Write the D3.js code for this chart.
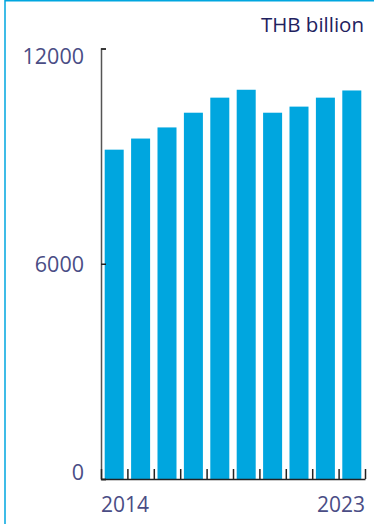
<!DOCTYPE html>
<html>
<head>
<meta charset="utf-8">
<script src="https://cdn.jsdelivr.net/npm/d3@7"></script>
<style>
html,body{margin:0;padding:0;background:#fff;}
svg{display:block;}
text{font-family:"Open Sans",sans-serif;}
</style>
</head>
<body>
<svg id="c" width="374" height="524"></svg>
<script>
const years = [2014,2015,2016,2017,2018,2019,2020,2021,2022,2023];
const values = [9180,9490,9800,10210,10630,10850,10210,10380,10630,10830];
const yTicks = [0,6000,12000];
const xLabels = ["2014","2023"];
const unitLabel = "THB billion";

const svg = d3.select("#c");
const W = 374, H = 524;
const blue = "#00a6df";

// frame
svg.append("path").attr("d", `M5,${H} V0.75 H${W}`).attr("fill","none")
  .attr("stroke", blue).attr("stroke-width", 1.5);

const x = d3.scaleBand().domain(years).range([101,365]).paddingInner(0.28).paddingOuter(0.14);
const y = d3.scaleLinear().domain([0,12000]).range([479,48.5]);

// bars
svg.append("g").selectAll("rect").data(values).join("rect")
  .attr("x",(d,i)=>x(years[i]))
  .attr("width",x.bandwidth())
  .attr("y",d=>y(d))
  .attr("height",d=>y(0)-y(d))
  .attr("fill",blue);

// y axis
const yAxis = d3.axisRight(y).tickValues(yTicks).tickSize(5).tickFormat("");
const gy = svg.append("g").attr("transform","translate(101,0)").call(yAxis);
gy.select(".domain").attr("stroke","#555").attr("stroke-width",1.5);
gy.selectAll(".tick line").attr("stroke","#222").attr("stroke-width",1.5);

// y labels
svg.append("g").selectAll("text").data(yTicks).join("text")
  .attr("x",84)
  .attr("y",d=>y(d))
  .attr("dy",(d,i)=> i===0 ? "0.05em" : (i===yTicks.length-1 ? "0.73em" : "0.38em"))
  .attr("text-anchor","end")
  .attr("font-size",21.5)
  .attr("fill","#4a4d85")
  .text(d=>d);

// x axis baseline with inward ticks at band boundaries
const edges = years.map(yv=>x(yv)-x.step()*x.paddingInner()/2 ).concat([x(years[years.length-1])+x.bandwidth()+x.step()*x.paddingInner()/2]);
const bx = d3.scaleLinear().domain([0, years.length]).range([edges[0], edges[edges.length-1]]);
const xAxis = d3.axisTop(bx).tickValues(d3.range(0, years.length+1)).tickSize(10).tickSizeOuter(0).tickFormat("");
const gx = svg.append("g").attr("transform",`translate(0,${y(0)})`).call(xAxis);
gx.select(".domain").attr("stroke","#222").attr("stroke-width",1.5);
gx.selectAll(".tick line").attr("stroke","#222").attr("stroke-width",1.5);

// x labels
svg.append("text").attr("x",x(years[0])-x.step()*x.paddingInner()/2).attr("y",512)
  .attr("font-size",21).attr("fill","#4a4d85").attr("text-anchor","start").text(xLabels[0]);
svg.append("text").attr("x",x(years[years.length-1])+x.bandwidth()+x.step()*x.paddingInner()/2).attr("y",512)
  .attr("font-size",21).attr("fill","#4a4d85").attr("text-anchor","end").text(xLabels[1]);

// unit label
svg.append("text").attr("x",364).attr("y",32).attr("text-anchor","end")
  .attr("font-size",20.5).attr("fill","#1f2260").text(unitLabel);
</script>
</body>
</html>
